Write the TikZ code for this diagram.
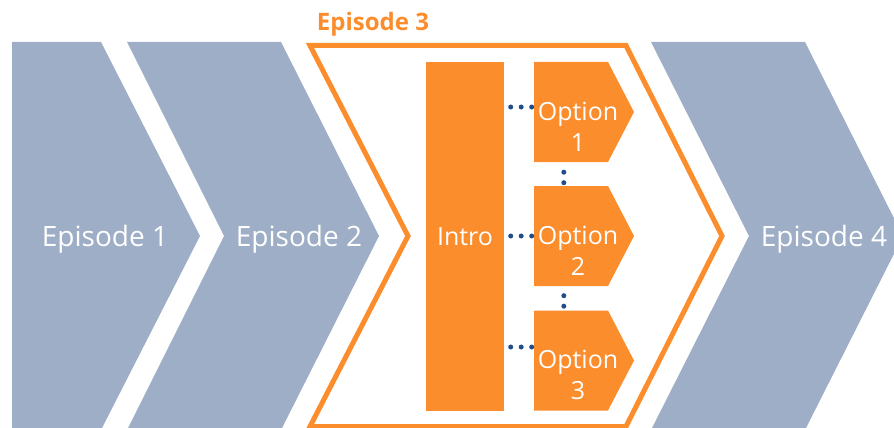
\documentclass[tikz,border=0pt]{standalone}
\usepackage{fontspec}
\setmainfont{Open Sans}
\usetikzlibrary{shapes.symbols}

\definecolor{episodegray}{RGB}{157,174,198}
\definecolor{episodeorange}{RGB}{251,141,45}
\definecolor{dotblue}{RGB}{31,78,138}

\tikzset{
  episode/.style={fill=episodegray},
  eplabel/.style={text=white,anchor=base,inner sep=0pt,font=\fontsize{28}{34}\selectfont},
  optbox/.style={shape=signal,signal to=east,signal pointer angle=125,fill=episodeorange,
    minimum width=100pt,minimum height=100pt,inner sep=0pt},
  optlabel/.style={text=white,align=center,inner sep=0pt,font=\fontsize{25}{31}\selectfont},
  dots/.style={draw=dotblue,line width=5pt,line cap=round,dash pattern=on 0pt off 10.5pt},
}

\begin{document}
\begin{tikzpicture}[x=1pt,y=-1pt]
    \useasboundingbox (0,0) rectangle (894,428);
    \clip (0,0) rectangle (894,428);
    % episodes around the current one
    \fill[episode] (12,42) -- (101,42) -- (200,236) -- (101,430) -- (12,430) -- cycle;
    \fill[episode] (127,42) -- (281,42) -- (379,236) -- (281,430) -- (127,430) -- (224,236) -- cycle;
    \fill[episode] (651,42) -- (805,42) -- (903,236) -- (805,430) -- (651,430) -- (749,236) -- cycle;
    \node[eplabel] (ep1) at (105,246) {Episode 1};
    \node[eplabel] (ep2) at (299,246) {Episode 2};
    \node[eplabel] (ep4) at (824,246) {Episode 4};
    % episode 3
    \draw[episodeorange,line width=5pt] (310,45.5) -- (626,45.5) -- (722,236) -- (626,426.5) -- (310,426.5) -- (408,236) -- cycle;
    \node[text=episodeorange,anchor=base,inner sep=0pt,font=\bfseries\fontsize{24}{28}\selectfont] (ep3) at (373,31) {Episode 3};
    \node[fill=episodeorange,minimum width=78pt,minimum height=349pt,inner sep=0pt,
      text=white,font=\fontsize{25}{31}\selectfont] (intro) at (465,236.5) {Intro};
    \node[optbox] (opt1) at (571,112) {};
    \node[optbox] (opt2) at (571,236) {};
    \node[optbox] (opt3) at (571,360.5) {};
    \node[optlabel,xshift=7pt,yshift=-14.5pt] (opt1text) at (opt1.center) {Option\\1};
    \node[optlabel,xshift=7pt,yshift=-14.5pt] (opt2text) at (opt2.center) {Option\\2};
    \node[optlabel,xshift=7pt,yshift=-14.5pt] (opt3text) at (opt3.center) {Option\\3};
    % dotted links
    \coordinate (c1) at ([yshift=5pt]opt1.west);
    \coordinate (c2) at (opt2.west);
    \coordinate (c3) at ([yshift=13.5pt]opt3.west);
    \draw[dots,dash phase=4pt] (intro.east |- c1) -- (c1);
    \draw[dots,dash phase=4pt] (intro.east |- c2) -- (c2);
    \draw[dots,dash phase=4pt] (intro.east |- c3) -- (c3);
    \draw[dots,dash phase=0.5pt] ([xshift=30pt]opt1.south west) -- ([xshift=30pt]opt1.south west |- opt2.north);
    \draw[dots,dash phase=1pt] ([xshift=30pt]opt2.south west) -- ([xshift=30pt]opt2.south west |- opt3.north);
\end{tikzpicture}
\end{document}
